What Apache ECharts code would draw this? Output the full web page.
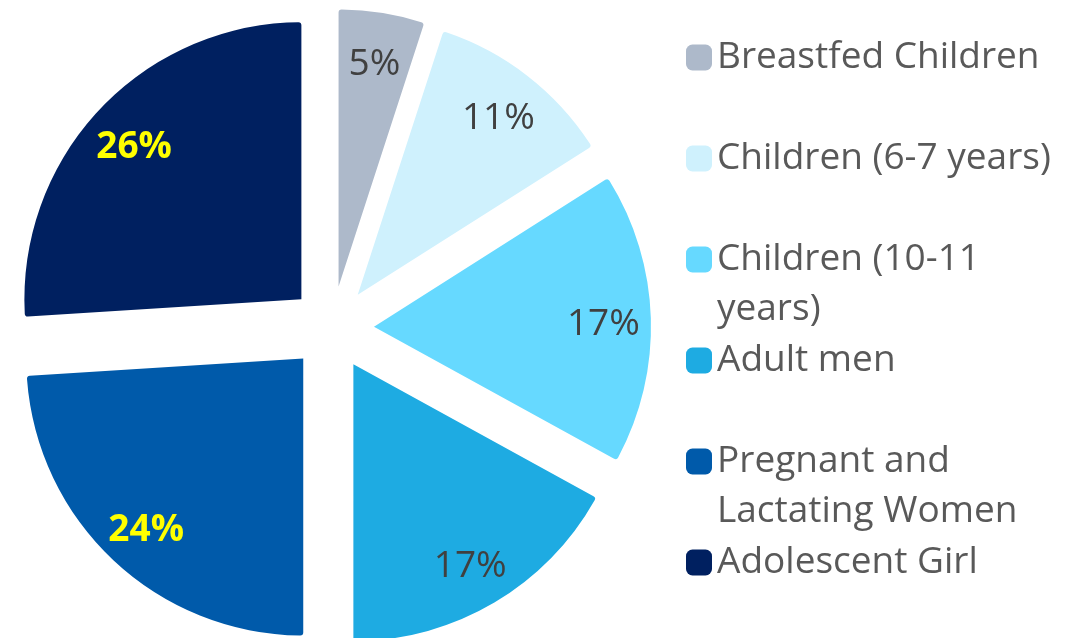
<!DOCTYPE html>
<html>
<head>
<meta charset="utf-8">
<script src="https://cdn.jsdelivr.net/npm/echarts@6/dist/echarts.min.js"></script>
<style>
  html, body { margin: 0; padding: 0; background: #fff; }
  #chart { width: 1071px; height: 638px; }
</style>
</head>
<body>
<div id="chart"></div>
<script>
const categories = [
  "Breastfed Children",
  "Children (6-7 years)",
  "Children (10-11 years)",
  "Adult men",
  "Pregnant and Lactating Women",
  "Adolescent Girl"
];
const values = [5, 11, 17, 17, 24, 26];
// how the legend breaks the longer names
const legendText = [
  "Breastfed Children",
  "Children (6-7 years)",
  "Children (10-11\nyears)",
  "Adult men",
  "Pregnant and\nLactating Women",
  "Adolescent Girl"
];

const colors = ["#ADB9CA", "#CFF1FD", "#66D9FF", "#1EABE2", "#005AAA", "#002060"];
const labelColors = ["#404040", "#404040", "#404040", "#404040", "#FFFF00", "#FFFF00"];
const labelBold = [false, false, false, false, true, true];

const center = [332, 328];
const radius = 277;
const offset = 42;
const font = "'Open Sans', 'Noto Sans', sans-serif";

const myChart = echarts.init(document.getElementById("chart"), null, { renderer: "canvas" });

const pieData = categories.map((name, i) => ({
  name,
  value: values[i],
  selected: true,
  itemStyle: { color: colors[i] },
  select: { itemStyle: { color: colors[i], borderWidth: 0 } }
}));

const labelData = categories.map((name, i) => ({
  name,
  value: values[i],
  selected: true,
  label: {
    color: labelColors[i],
    fontWeight: labelBold[i] ? "bold" : "normal"
  },
  select: {
    label: {
      color: labelColors[i],
      fontWeight: labelBold[i] ? "bold" : "normal"
    }
  }
}));

// one legend per entry; a blank first line keeps the icon on the first text line
const legends = categories.map((name, i) => {
  const twoLines = legendText[i].indexOf("\n") >= 0;
  const iconY = 57.5 + 101 * i;
  return {
    data: [name],
    orient: "vertical",
    left: 686,
    top: twoLines ? iconY - 75 : iconY - 25,
    padding: 0,
    itemWidth: 26,
    itemHeight: 26,
    icon: "roundRect",
    selectedMode: false,
    formatter: () => (twoLines ? "\n" : "") + legendText[i],
    textStyle: {
      fontFamily: font,
      fontSize: 37,
      lineHeight: 50,
      color: "#595959"
    }
  };
});

myChart.setOption({
  animation: false,
  legend: legends,
  series: [
    {
      type: "pie",
      center,
      radius: [0, radius],
      startAngle: 90,
      clockwise: true,
      selectedMode: "multiple",
      selectedOffset: offset,
      silent: true,
      itemStyle: { borderRadius: 3, borderWidth: 0 },
      label: { show: false },
      labelLine: { show: false },
      emphasis: { disabled: true },
      data: pieData
    },
    {
      // transparent ring only used to place the percent labels further out
      type: "pie",
      center: [center[0], center[1] + 5],
      radius: [176, radius],
      startAngle: 90,
      clockwise: true,
      selectedMode: "multiple",
      selectedOffset: offset,
      silent: true,
      legendHoverLink: false,
      itemStyle: { color: "rgba(0,0,0,0)", borderWidth: 0 },
      select: { itemStyle: { color: "rgba(0,0,0,0)", borderWidth: 0 } },
      label: {
        show: true,
        position: "inside",
        formatter: "{c}%",
        fontFamily: font,
        fontSize: 37
      },
      labelLine: { show: false },
      emphasis: { disabled: true },
      data: labelData
    }
  ]
});
</script>
</body>
</html>
